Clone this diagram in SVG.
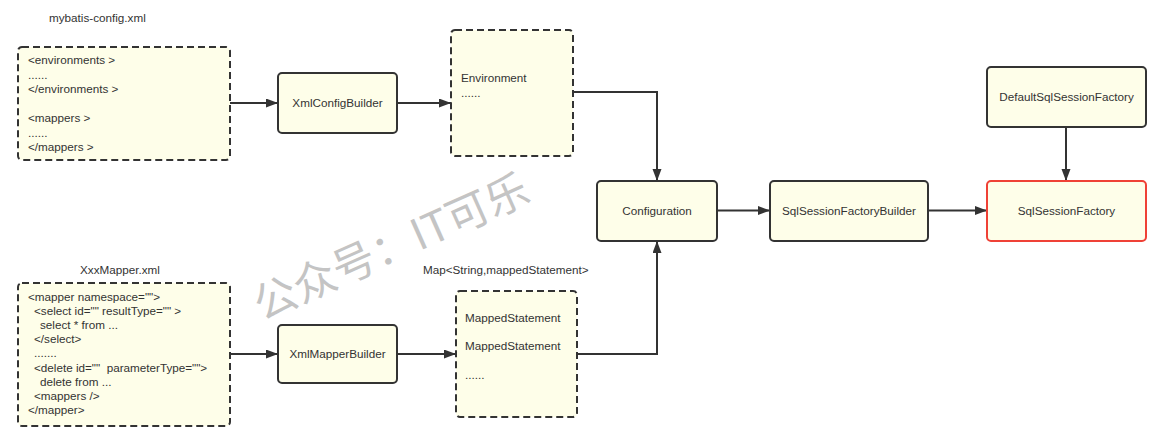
<svg xmlns="http://www.w3.org/2000/svg" width="1160" height="436" viewBox="0 0 1160 436">
<style>
  .box { fill: #fefee9; stroke: #333333; stroke-width: 2; }
  .dash { stroke-dasharray: 7 4; }
  .red { stroke: #ef4136; }
  text { font-family: "Liberation Sans", Arial, sans-serif; font-size: 11.7px; fill: #333333; }
  .c { text-anchor: middle; }
  .conn { fill: none; stroke: #333333; stroke-width: 2; marker-end: url(#arrow); }
  .wm { font-family: "Noto Sans CJK SC", "Noto Sans", sans-serif; font-size: 43px; fill: #c4c4c4; }
</style>
<defs>
  <marker id="arrow" markerUnits="userSpaceOnUse" markerWidth="12" markerHeight="10" refX="12" refY="4.5" orient="auto">
    <path d="M0,0 L12,4.5 L0,9 z" fill="#333333"/>
  </marker>
</defs>
<rect width="1160" height="436" fill="#ffffff"/>

<g id="watermark">
  <text class="wm" transform="translate(262,321) rotate(-24)">公众号：IT可乐</text>
</g>

<g id="connectors">
  <path class="conn" d="M230,103 L278,103"/>
  <path class="conn" d="M397,103 L451,103"/>
  <path class="conn" d="M573,92 L657,92 L657,181"/>
  <path class="conn" d="M230,354 L278,354"/>
  <path class="conn" d="M397,354 L456,354"/>
  <path class="conn" d="M577,354 L657,354 L657,241"/>
  <path class="conn" d="M717,210.5 L770,210.5"/>
  <path class="conn" d="M928,210.5 L987,210.5"/>
  <path class="conn" d="M1066,127 L1066,181"/>
</g>

<g id="mybatis-config">
  <text x="49" y="22">mybatis-config.xml</text>
  <rect class="box dash" x="18" y="47" width="212" height="113" rx="4"/>
  <text x="28" y="64">&lt;environments &gt;</text>
  <text x="28" y="78.5">......</text>
  <text x="28" y="93">&lt;/environments &gt;</text>
  <text x="28" y="122">&lt;mappers &gt;</text>
  <text x="28" y="136.5">......</text>
  <text x="28" y="151">&lt;/mappers &gt;</text>
</g>

<g id="xmlconfigbuilder">
  <rect class="box" x="278" y="73" width="119" height="60" rx="4"/>
  <text class="c" x="337.5" y="107">XmlConfigBuilder</text>
</g>

<g id="environment">
  <rect class="box dash" x="451" y="30" width="122" height="126" rx="4"/>
  <text x="461" y="82">Environment</text>
  <text x="461" y="96.5">......</text>
</g>

<g id="configuration">
  <rect class="box" x="597" y="181" width="120" height="60" rx="4"/>
  <text class="c" x="657" y="214.5">Configuration</text>
</g>

<g id="sqlsessionfactorybuilder">
  <rect class="box" x="770" y="181" width="158" height="60" rx="4"/>
  <text class="c" x="849" y="214.5">SqlSessionFactoryBuilder</text>
</g>

<g id="sqlsessionfactory">
  <rect class="box red" x="987" y="181" width="159" height="60" rx="4"/>
  <text class="c" x="1066.5" y="214.5">SqlSessionFactory</text>
</g>

<g id="defaultsqlsessionfactory">
  <rect class="box" x="987" y="67" width="159" height="60" rx="4"/>
  <text class="c" x="1066.5" y="101">DefaultSqlSessionFactory</text>
</g>

<g id="xxxmapper">
  <text class="c" x="120" y="274">XxxMapper.xml</text>
  <rect class="box dash" x="18" y="283" width="212" height="143" rx="4"/>
  <text x="28" y="301">&lt;mapper namespace=""&gt;</text>
  <text x="34" y="315.1">&lt;select id="" resultType="" &gt;</text>
  <text x="40" y="329.2">select * from ...</text>
  <text x="34" y="343.3">&lt;/select&gt;</text>
  <text x="34" y="357.4">.......</text>
  <text x="34" y="371.5" xml:space="preserve">&lt;delete id=""  parameterType=""&gt;</text>
  <text x="40" y="385.6">delete from ...</text>
  <text x="34" y="399.7">&lt;mappers /&gt;</text>
  <text x="28" y="413.8">&lt;/mapper&gt;</text>
</g>

<g id="xmlmapperbuilder">
  <rect class="box" x="278" y="325" width="119" height="58" rx="4"/>
  <text class="c" x="337.5" y="358">XmlMapperBuilder</text>
</g>

<g id="mappedstatements">
  <text x="423" y="274">Map&lt;String,mappedStatement&gt;</text>
  <rect class="box dash" x="456" y="291" width="121" height="126" rx="4"/>
  <text x="465" y="322">MappedStatement</text>
  <text x="465" y="350">MappedStatement</text>
  <text x="465" y="379">......</text>
</g>
</svg>
